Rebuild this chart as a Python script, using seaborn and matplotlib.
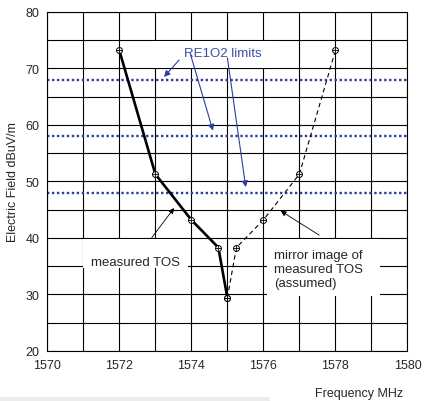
import numpy as np
import pandas as pd
import matplotlib
matplotlib.use("Agg")
import matplotlib.pyplot as plt
import seaborn as sns
from matplotlib.patches import Rectangle
from matplotlib.ticker import MultipleLocator

# ------------------------
# data
# ------------------------
measured_mhz = [1572, 1573, 1574, 1574.75, 1575]
measured_db = [73.2, 51.3, 43.2, 38.3, 29.4]
mirror_mhz = [1575, 1575.25, 1576, 1577, 1578]
mirror_db = [29.4, 38.3, 43.2, 51.3, 73.2]
limit_db = [68, 58, 48]
x_range = [1570, 1580]

measured = pd.DataFrame({"mhz": measured_mhz, "db": measured_db})
mirror = pd.DataFrame({"mhz": mirror_mhz, "db": mirror_db})

blue = "#2d3f9e"
blue_txt = "#3c4fa6"

sns.set_style("white")
plt.rcParams["font.family"] = ["Liberation Sans", "DejaVu Sans"]
plt.rcParams["font.size"] = 9

fig = plt.figure(figsize=(4.28, 4.02), dpi=100)
ax = fig.add_axes([0.1105, 0.1244, 0.8415, 0.8433])

# grid
ax.set_xlim(1570, 1580)
ax.set_ylim(20, 80)
ax.xaxis.set_major_locator(MultipleLocator(2))
ax.xaxis.set_minor_locator(MultipleLocator(1))
ax.yaxis.set_major_locator(MultipleLocator(10))
ax.yaxis.set_minor_locator(MultipleLocator(5))
ax.set_axisbelow(True)
ax.grid(True, which="both", color="black", lw=0.8)
ax.tick_params(which="both", length=0, pad=5.5, labelsize=9)
for s in ax.spines.values():
    s.set_color("black")
    s.set_linewidth(0.8)

# white boxes behind the notes
for (x0, x1, y0, y1) in [(1572.9, 1576.3, 70.1, 74.9),
                         (1571.0, 1573.92, 34.6, 39.9),
                         (1576.1, 1579.24, 29.7, 39.9)]:
    ax.add_patch(Rectangle((x0, y0), x1 - x0, y1 - y0, facecolor="white",
                           edgecolor="none", zorder=1))

# RE102 limits
for lim in limit_db:
    sns.lineplot(x=x_range, y=[lim, lim], ax=ax, color=blue, lw=1.7,
                 linestyle=(0, (1, 1.1)), zorder=2)

# measured and mirror curves
sns.lineplot(data=measured, x="mhz", y="db", ax=ax, color="black", lw=1.9,
             sort=False, zorder=3)
sns.lineplot(data=mirror, x="mhz", y="db", ax=ax, color="black", lw=0.8,
             linestyle=(0, (4, 3)), sort=False, zorder=3)
both = pd.concat([measured, mirror])
sns.scatterplot(data=both, x="mhz", y="db", ax=ax, marker="o", s=18,
                facecolor="white", edgecolor="black", linewidth=0.7, zorder=4)
sns.scatterplot(data=both, x="mhz", y="db", ax=ax, marker="+", s=14,
                color="black", linewidth=0.6, zorder=5)

# notes
ax.text(1574.88, 72.8, "RE1O2 limits", color=blue_txt, ha="center",
        va="center", fontsize=9.5, zorder=6)
arr_blue = dict(arrowstyle="-|>", color=blue, lw=0.8, mutation_scale=9,
                shrinkA=0, shrinkB=0)
ax.annotate("", xy=(1573.24, 68.5), xytext=(1573.66, 71.5), arrowprops=arr_blue, zorder=6)
ax.annotate("", xy=(1574.6, 59.0), xytext=(1573.98, 72.4), arrowprops=arr_blue, zorder=6)
ax.annotate("", xy=(1575.51, 49.0), xytext=(1575.0, 71.9), arrowprops=arr_blue, zorder=6)

ax.text(1572.46, 35.7, "measured TOS", ha="center", va="center",
        fontsize=9.5, zorder=6)
arr_black = dict(arrowstyle="-|>", color="black", lw=0.6, mutation_scale=8,
                 shrinkA=0, shrinkB=0)
ax.annotate("", xy=(1573.52, 45.3), xytext=(1572.89, 39.95), arrowprops=arr_black, zorder=6)

ax.text(1576.3, 34.5, "mirror image of\nmeasured TOS\n(assumed)", ha="left",
        va="center", fontsize=9.5, linespacing=1.25, zorder=6)
ax.annotate("", xy=(1576.48, 44.8), xytext=(1577.55, 40.5), arrowprops=arr_black, zorder=6)

ax.set_xlabel("Frequency MHz", fontsize=9, ha="right", va="center")
ax.xaxis.set_label_coords(0.9875, -0.124)
ax.set_ylabel("Electric Field dBuV/m", fontsize=9, va="center")
ax.yaxis.set_label_coords(-0.094, 0.5)

# grey strip at the bottom edge
fig.patches.append(Rectangle((0, 0), 0.63, 0.009, transform=fig.transFigure,
                             facecolor="#ececec", edgecolor="none"))

fig.savefig("out.png", dpi=100)
